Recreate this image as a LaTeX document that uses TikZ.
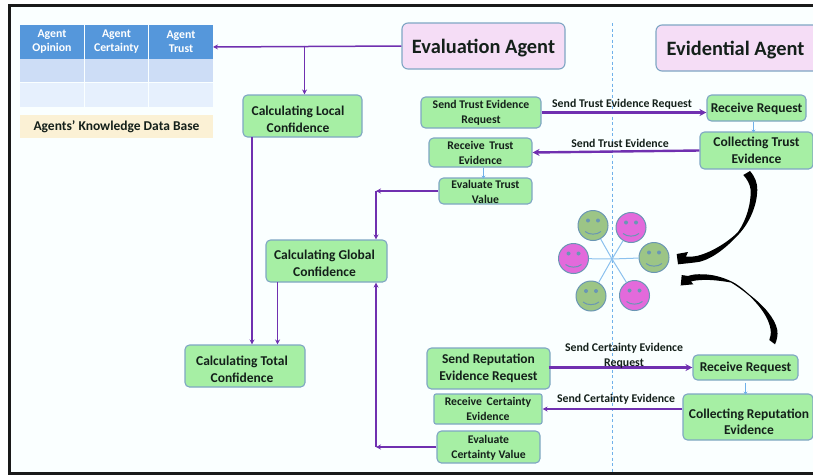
\documentclass[tikz,border=0pt]{standalone}
\usepackage{fontspec}
\setmainfont{Carlito}
\usetikzlibrary{arrows.meta,positioning}
\definecolor{purp}{HTML}{7030B0}
\definecolor{edge}{HTML}{7FA6C4}
\definecolor{greenbox}{HTML}{A6EFA4}
\definecolor{pinkbox}{HTML}{F5DDF6}
\definecolor{lblue}{HTML}{6FB1EA}
\definecolor{hdr}{HTML}{5597DB}
\definecolor{rowa}{HTML}{CDDDF6}
\definecolor{rowb}{HTML}{E6F0FD}
\definecolor{cream}{HTML}{FBF1D5}
\definecolor{facegreen}{HTML}{9CC586}
\definecolor{facepink}{HTML}{E36ADB}
\definecolor{faceline}{HTML}{6A96B4}
\definecolor{paper}{HTML}{FAFFFF}
\definecolor{ink}{HTML}{14201A}
\newcommand{\dn}[1]{\rule{0pt}{#1pt}}
\tikzset{
  x=1pt,y=-1pt,
  boxbase/.style={draw=edge,line width=1.1pt,rounded corners=4.5pt,align=center,inner sep=0pt,text=ink,font=\bfseries},
  greenb/.style={boxbase,fill=greenbox},
  agent/.style={boxbase,fill=pinkbox,rounded corners=6pt,font=\fontsize{20.4}{23}\selectfont\bfseries},
  small/.style={font=\fontsize{11.7}{15}\selectfont\bfseries},
  medium/.style={font=\fontsize{13.5}{16.7}\selectfont\bfseries},
  flow/.style={draw=purp,line width=1.5pt,-{Stealth[length=5pt,width=5pt]}},
  bigflow/.style={draw=purp,line width=2.4pt,-{Stealth[length=7pt,width=7pt]}},
  thin link/.style={draw=lblue,line width=1.1pt,-{Stealth[length=3pt,width=4pt]}},
  cell/.style={inner sep=0pt,align=center},
  hcell/.style={cell,fill=hdr,text=white,font=\fontsize{11.8}{14.5}\selectfont\bfseries},
  lab/.style={inner sep=0pt,align=center,text=ink,font=\fontsize{11.8}{15}\selectfont\bfseries},
  face/.style={circle,draw=faceline,line width=1pt,minimum size=30pt,inner sep=0pt},
}
\newcommand{\facedetail}[1]{%
  \fill[faceline] (#1.center)++(-5,-5) circle (2);
  \fill[faceline] (#1.center)++(5,-5) circle (2);
  \draw[faceline,line width=1pt] (#1.center)++(-8,6) .. controls +(4,3.5) and +(-4,3.5) .. +(16,0);
}
\begin{document}
\begin{tikzpicture}
\useasboundingbox (0,0) rectangle (813,475);
\fill[white] (0,0) rectangle (813,475);
\fill[paper] (9,5) rectangle (813,473);
\draw[black!90,line width=2.4pt] (813,5.5) -- (9.5,5.5) -- (9.5,473.5) -- (813,473.5);

% centre axis
\coordinate (axisTop) at (612,23);
\coordinate (axisBot) at (612,472);
\draw[lblue,line width=1pt,dash pattern=on 3pt off 2.5pt] (axisTop) -- (axisBot);

% table
\node[hcell,minimum width=64pt,minimum height=34pt] (cA) at (52,41.5) {Agent\\Opinion};
\node[hcell,minimum width=63pt,minimum height=34pt] (cB) at (116.5,41.5) {Agent\\Certainty};
\node[hcell,minimum width=64pt,minimum height=34pt] (cC) at (181,41.5) {Agent\\Trust};
\foreach \n/\cx/\w in {A/52/64,B/116.5/63,C/181/64}{
  \node[cell,fill=rowa,minimum width=\w pt,minimum height=23pt] (r\n) at (\cx,70.5) {};
  \node[cell,fill=rowb,minimum width=\w pt,minimum height=24pt] (s\n) at (\cx,95) {};
}
\node[cell,fill=cream,minimum width=193pt,minimum height=23pt,text=ink,font=\fontsize{13.5}{14}\selectfont\bfseries] (kb) at (116.5,126.5) {\dn{11}Agents’ Knowledge Data Base};

% agents
\node[agent,minimum width=163pt,minimum height=46pt] (evalA) at (483.5,46) {\dn{18.5}Evaluation Agent};
\node[agent,minimum width=163pt,minimum height=46pt] (evidA) at (737.5,48) {\dn{18.5}Evidential Agent\hspace*{4pt}};

% left column
\node[greenb,medium,minimum width=119pt,minimum height=42pt] (local) at (302.5,116) {\dn{15.5}Calculating Local\hspace*{9pt}\\Confidence\hspace*{9pt}};
\node[greenb,medium,minimum width=121pt,minimum height=42pt] (global) at (326.5,261) {\dn{13.5}Calculating Global\hspace*{4pt}\\Confidence\hspace*{4pt}};
\node[greenb,medium,minimum width=120pt,minimum height=42pt] (total) at (245,366) {\dn{15.5}Calculating Total\hspace*{6pt}\\Confidence\hspace*{6pt}};

% trust side
\node[greenb,small,minimum width=120pt,minimum height=31pt] (sendT) at (481,112.5) {Send Trust Evidence\\Request};
\node[greenb,small,minimum width=103pt,minimum height=29pt] (recvT) at (480.5,152.5) {Receive\, Trust\\Evidence};
\node[greenb,small,minimum width=93pt,minimum height=26pt] (evalT) at (485.5,191) {\dn{10}Evaluate Trust\\Value};
\node[greenb,medium,minimum width=99pt,minimum height=26pt] (reqT) at (756.5,108) {\dn{11.5}Receive Request};
\node[greenb,medium,minimum width=113pt,minimum height=37pt] (collT) at (756.5,150.5) {Collecting Trust\\Evidence};

% certainty side
\node[greenb,medium,minimum width=123pt,minimum height=41pt] (sendC) at (488.5,368.5) {Send Reputation\\Evidence Request};
\node[greenb,small,minimum width=108pt,minimum height=30pt,rounded corners=2pt] (recvC) at (488,409) {Receive\, Certainty\\Evidence};
\node[greenb,small,minimum width=103pt,minimum height=32pt] (evalC) at (488.5,447) {\dn{10}Evaluate\\Certainty Value};
\node[greenb,medium,minimum width=105pt,minimum height=25pt] (reqC) at (745.5,367.5) {Receive Request};
\node[greenb,medium,minimum width=130pt,minimum height=46pt] (collC) at (748,417) {\dn{19}\hspace*{2pt}Collecting Reputation\\\hspace*{2pt}Evidence};

% purple connectors, top-left
\coordinate (branch) at (304.5,45.5);
\coordinate (tableIn) at (213,47);
\draw[flow] (evalA.west) -- (tableIn);
\draw[flow] (branch) -- (branch |- local.north);
\coordinate (localOut) at (252,137);
\draw[flow] (localOut) -- (localOut |- total.north);
\coordinate (globalOut) at (277.5,282);
\draw[flow] (globalOut) -- (globalOut |- total.north);
\coordinate (bendT) at (376,191);
\draw[flow] (evalT.west) -- (bendT);
\draw[flow] (bendT) -- (bendT |- global.north);
\coordinate (bendC) at (376,447);
\draw[flow] (evalC.west) -- (bendC);
\draw[flow] (bendC) -- (bendC |- global.south);

% exchanges
\draw[bigflow] (sendT.east) -- (reqT.west |- sendT.east) ;
\draw[bigflow] (collT.west) -- (recvT.east);
\draw[bigflow] (sendC.east) ++(-2,-1) -- (reqC.west |- 0,367.5);
\draw[flow,line width=1.8pt] (collC.west |- recvC.east) -- (recvC.east);
\draw[thin link] (reqT.south) ++(-3,0) -- ++(0,11);
\draw[thin link] (recvT.south) ++(3,0) -- ++(0,11);
\draw[thin link] (reqC.south) ++(0,2) -- ++(0,12);

% edge labels
\node[lab] (lA) at (622,104.5) {Send Trust Evidence Request};
\node[lab] (lB) at (620,143) {Send Trust Evidence};
\node[lab] (lC) at (624,355.5) {Send Certainty Evidence\\Request};
\node[lab] (lD) at (616,399) {Send Certainty Evidence};

% faces
\coordinate (hub) at (612,259);
\node[face,fill=facegreen] (f1) at (593,225.5) {};
\node[face,fill=facepink]  (f2) at (631,227.5) {};
\node[face,fill=facepink]  (f3) at (573.5,258.5) {};
\node[face,fill=facegreen] (f4) at (654,257.5) {};
\node[face,fill=facegreen] (f5) at (591,296) {};
\node[face,fill=facepink]  (f6) at (634.5,295.5) {};
\foreach \f in {f1,f2,f3,f4,f5,f6}{
  \draw[lblue!80,line width=1pt] (hub) -- (\f);
  \facedetail{\f}
}

% heavy curved arrows
\fill[black] (743.3,175) -- (750,171)
  .. controls (755,177) and (757.5,183) .. (757.3,190)
  .. controls (757,205) and (750,222) .. (739,234)
  .. controls (728,246) and (714,258) .. (700,261.7)
  .. controls (692,263) and (685,263.5) .. (678,264.3)
  -- (676.7,254) -- (688,252) -- (686,256.5)
  .. controls (690,257) and (694,256.5) .. (698,255.7)
  .. controls (712,252) and (728,242) .. (738,232)
  .. controls (747,219) and (751,203) .. (750.7,190)
  .. controls (750,184) and (747,179) .. (743.3,175) -- cycle;
\fill[black] (769.3,340) -- (775,344.3)
  .. controls (777,340) and (778,335) .. (777.3,330)
  .. controls (775,318) and (763,305) .. (750,295)
  .. controls (742,288) and (737,284) .. (731.7,281.5)
  .. controls (722,277) and (713,274.5) .. (703.3,274.3)
  .. controls (697,274) and (692,274.5) .. (688,276)
  -- (681.7,275) -- (680.7,285.5) -- (693.3,284.3) -- (691,281.5)
  .. controls (695,280.5) and (698,280) .. (701.7,280)
  .. controls (712,279.5) and (722,281) .. (731,282.5)
  .. controls (740,288) and (746,293) .. (749.5,296)
  .. controls (760,306) and (769,318) .. (770.7,330)
  .. controls (771,334) and (770.5,337) .. (769.3,340) -- cycle;
\end{tikzpicture}
\end{document}
